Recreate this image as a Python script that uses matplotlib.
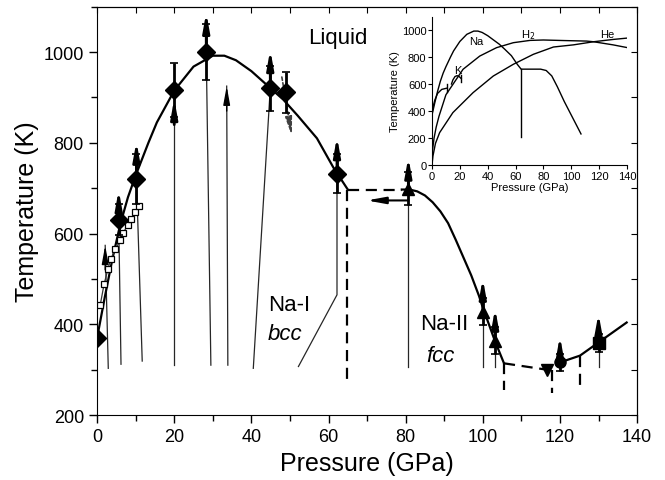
import matplotlib
matplotlib.use("Agg")
import matplotlib.pyplot as plt
from matplotlib.ticker import MultipleLocator

plt.rcParams['font.family'] = ['Liberation Sans', 'DejaVu Sans']

# Melting curve, bcc part
bcc_p = [0, 2, 4, 6, 8, 10, 13.3, 15.5, 20, 25, 30, 33, 36, 40, 45, 48.3, 52, 57, 61.3, 65]
bcc_t = [370, 460, 545, 620, 680, 728, 800, 845, 915, 968, 992, 992, 982, 958, 920, 895, 860, 810, 745, 697]

# Melting curve, fcc part
fcc_p = [79, 81, 83, 85, 87, 89, 91, 93, 95, 97, 99, 100, 101.5, 103.2, 105.5]
fcc_t = [697, 697, 693, 684, 669, 649, 623, 586, 547, 508, 463, 437, 402, 362, 314]

# high pressure end
hp_p = [120, 125.2, 130, 137.3]
hp_t = [316, 331, 360, 404]

# dashed links
dash_h_p = [65, 79]
dash_h_t = [697, 697]
dash_lo_p = [105.5, 116.6]
dash_lo_t = [314, 300]
dash_v = [(64.9, 697, 278), (105.4, 314, 256), (118, 300, 248), (125.2, 331, 256)]

# open squares
sq_p = [0.8, 1.8, 2.85, 3.5, 4.7, 6.0, 6.8, 7.9, 8.9, 9.85, 10.9]
sq_t = [442, 488, 523, 543, 565, 585, 602, 618, 633, 648, 661]

# filled diamonds
dia_p = [0, 5.6, 10.2, 20, 28.3, 44.9, 48.9, 62.2]
dia_t = [370, 631, 721, 917, 1000, 920, 911, 732]
dia_err = [0, 35, 55, 60, 62, 50, 45, 43]

# triangles, inverted triangle, circle, square
tri_p = [80.7, 100, 103.2]
tri_t = [699, 428, 364]
tri_err = [37, 30, 30]
inv_p = [116.6]
inv_t = [300]
circ_p = [120]
circ_t = [316]
circ_err = [18]
box_p = [130]
box_t = [358]
box_err = [20]

# thin heating paths
paths = [
    ([2.9, 2.1], [303, 574]),
    ([6.2, 5.6], [312, 631]),
    ([11.7, 10.2], [319, 721]),
    ([20, 20], [310, 897]),
    ([29.5, 28.3], [310, 1000]),
    ([33.9, 33.6], [310, 925]),
    ([40.5, 44.9], [303, 920]),
    ([52.2, 62.2, 62.2], [307, 465, 732]),
    ([80.7, 80.7], [307, 699]),
    ([100, 100], [307, 428]),
    ([103.2, 103.2], [307, 364]),
    ([130, 130], [305, 358]),
]

# up arrows: pressure, start T, tip T
thick_arrows = [(5.6, 631, 696), (10.2, 721, 803), (20, 840, 897), (28.3, 1000, 1087),
                (44.9, 920, 1005), (62.2, 732, 813), (80.7, 699, 768), (100, 428, 501),
                (103.2, 364, 435), (120, 316, 374), (130, 358, 424)]
thin_arrows = [(2.1, 520, 574), (33.6, 870, 925)]

# inset curves
in_na_p = bcc_p[:-1] + [64, 78, 82, 86, 90, 95, 100, 104, 107]
in_na_t = bcc_t[:-1] + [710, 710, 700, 660, 580, 470, 370, 290, 230]
in_k_p = [0, 1, 2, 4, 7, 11]
in_k_t = [380, 440, 480, 530, 560, 570]
in_k2_p = [14, 15, 16.5, 18, 19.5, 21]
in_k2_t = [600, 630, 655, 662, 655, 640]
in_h2_p = [0, 0.5, 1.5, 3, 5, 10, 22.3, 34.3, 46.3, 58.4, 70.4, 80, 94.4, 111, 116, 130, 140]
in_h2_t = [40, 120, 200, 280, 360, 520, 709, 807, 869, 906, 923, 926, 922, 918, 913, 890, 870]
in_he_p = [0, 0.7, 2.5, 5.5, 15, 29.5, 44, 58.4, 72.8, 87.2, 101.6, 116, 130, 140]
in_he_t = [0, 67, 160, 240, 388, 536, 659, 746, 820, 874, 890, 913, 930, 940]

fig = plt.figure(figsize=(6.65, 4.81), dpi=100)
ax = fig.add_axes([0.146, 0.135, 0.812, 0.849])

head = '-|>,head_length=1.1,head_width=0.2'

# heating paths
for xs, ys in paths:
    ax.plot(xs, ys, color='0.15', lw=0.9, zorder=2)

# melting curves
ax.plot(bcc_p, bcc_t, 'k-', lw=1.6, zorder=3)
ax.plot(fcc_p, fcc_t, 'k-', lw=1.6, zorder=3)
ax.plot(hp_p, hp_t, 'k-', lw=1.6, zorder=3)
ax.plot(dash_h_p, dash_h_t, 'k--', lw=1.6, dashes=(5, 3), zorder=3)
ax.plot(dash_lo_p, dash_lo_t, 'k--', lw=1.6, dashes=(5, 3), zorder=3)
for x, y0, y1 in dash_v:
    ax.plot([x, x], [y0, y1], 'k--', lw=1.6, dashes=(5, 3), zorder=3)

# open squares
ax.plot(sq_p, sq_t, '-', color='0.2', lw=0.9, zorder=4)
ax.plot(sq_p, sq_t, 's', mfc='white', mec='k', ms=5, mew=0.9, zorder=5)

# arrows
for x, y0, y1 in thick_arrows:
    ax.annotate('', xy=(x, y1), xytext=(x, y0),
                arrowprops=dict(arrowstyle=head, color='k', lw=2, shrinkA=0, shrinkB=0), zorder=4)
for x, y0, y1 in thin_arrows:
    ax.annotate('', xy=(x, y1), xytext=(x, y0),
                arrowprops=dict(arrowstyle=head, color='k', lw=1, shrinkA=0, shrinkB=0), zorder=4)
ax.annotate('', xy=(50.5, 815), xytext=(47.9, 945),
            arrowprops=dict(arrowstyle=head, color='0.25', lw=1.2, ls=(0, (2, 1.5)),
                            shrinkA=0, shrinkB=0), zorder=4)
ax.annotate('', xy=(69.9, 673), xytext=(80.7, 673),
            arrowprops=dict(arrowstyle=head, color='k', lw=1.5, shrinkA=0, shrinkB=0), zorder=4)

# markers with error bars
ax.errorbar(dia_p, dia_t, yerr=dia_err, fmt='D', color='k', ms=9, capsize=3,
            elinewidth=2, capthick=1.2, zorder=6)
ax.errorbar(tri_p, tri_t, yerr=tri_err, fmt='^', color='k', ms=9, capsize=3,
            elinewidth=2, capthick=1.2, zorder=6)
ax.plot(inv_p, inv_t, 'v', color='k', ms=9, zorder=6)
ax.errorbar(circ_p, circ_t, yerr=circ_err, fmt='o', color='k', ms=8, capsize=3,
            elinewidth=2, capthick=1.2, zorder=6)
ax.errorbar(box_p, box_t, yerr=box_err, fmt='s', color='k', ms=8, capsize=3,
            elinewidth=2, capthick=1.2, zorder=6)

# texts
ax.text(54.7, 1033, 'Liquid', fontsize=16, va='center', ha='left')
ax.text(44.3, 443, 'Na-I', fontsize=16, va='center', ha='left')
ax.text(44.3, 380, 'bcc', fontsize=16, va='center', ha='left', style='italic')
ax.text(83.7, 402, 'Na-II', fontsize=16, va='center', ha='left')
ax.text(85.3, 332, 'fcc', fontsize=16, va='center', ha='left', style='italic')

ax.set_xlim(0, 140)
ax.set_ylim(200, 1100)
ax.xaxis.set_major_locator(MultipleLocator(20))
ax.xaxis.set_minor_locator(MultipleLocator(10))
ax.yaxis.set_major_locator(MultipleLocator(200))
ax.yaxis.set_minor_locator(MultipleLocator(100))
ax.tick_params(which='both', direction='out', labelsize=13, width=1)
ax.tick_params(which='major', length=6)
ax.tick_params(which='minor', length=4)
ax.set_xlabel('Pressure (GPa)', fontsize=18, labelpad=4)
ax.set_ylabel('Temperature (K)', fontsize=18, labelpad=3)

# ticks inside on the top and right edges
sec = ax.secondary_xaxis('top')
sec.xaxis.set_major_locator(MultipleLocator(10))
sec.tick_params(direction='in', length=4, labeltop=False)
sec_y = ax.secondary_yaxis('right')
sec_y.yaxis.set_major_locator(MultipleLocator(100))
sec_y.tick_params(direction='in', length=4, labelright=False)

# inset
ins = fig.add_axes([0.6496, 0.6549, 0.2932, 0.3087])
ins.plot(in_na_p, in_na_t, 'k-', lw=1)
ins.plot([64, 64], [710, 210], 'k-', lw=1)
ins.plot(in_k_p, in_k_t, 'k-', lw=1)
ins.plot(in_k2_p, in_k2_t, 'k-', lw=1)
ins.plot([11, 11], [540, 600], 'k-', lw=1)
ins.plot([21, 21], [615, 665], 'k-', lw=1)
ins.plot(in_h2_p, in_h2_t, 'k-', lw=1)
ins.plot(in_he_p, in_he_t, 'k-', lw=1)
ins.text(31.5, 918, 'Na', fontsize=8, ha='center', va='center')
ins.text(69, 968, 'H$_2$', fontsize=8, ha='center', va='center')
ins.text(126, 968, 'He', fontsize=8, ha='center', va='center')
ins.text(18.7, 701, 'K', fontsize=8, ha='center', va='center')
ins.set_xlim(0, 140)
ins.set_ylim(0, 1100)
ins.xaxis.set_major_locator(MultipleLocator(20))
ins.yaxis.set_major_locator(MultipleLocator(200))
ins.spines['top'].set_visible(False)
ins.spines['right'].set_visible(False)
ins.patch.set_alpha(0)
ins.tick_params(labelsize=8, length=3, direction='out', pad=1)
ins.set_xlabel('Pressure (GPa)', fontsize=8, labelpad=1)
ins.set_ylabel('Temperature (K)', fontsize=8, labelpad=1)

fig.savefig('out.png', dpi=100)
